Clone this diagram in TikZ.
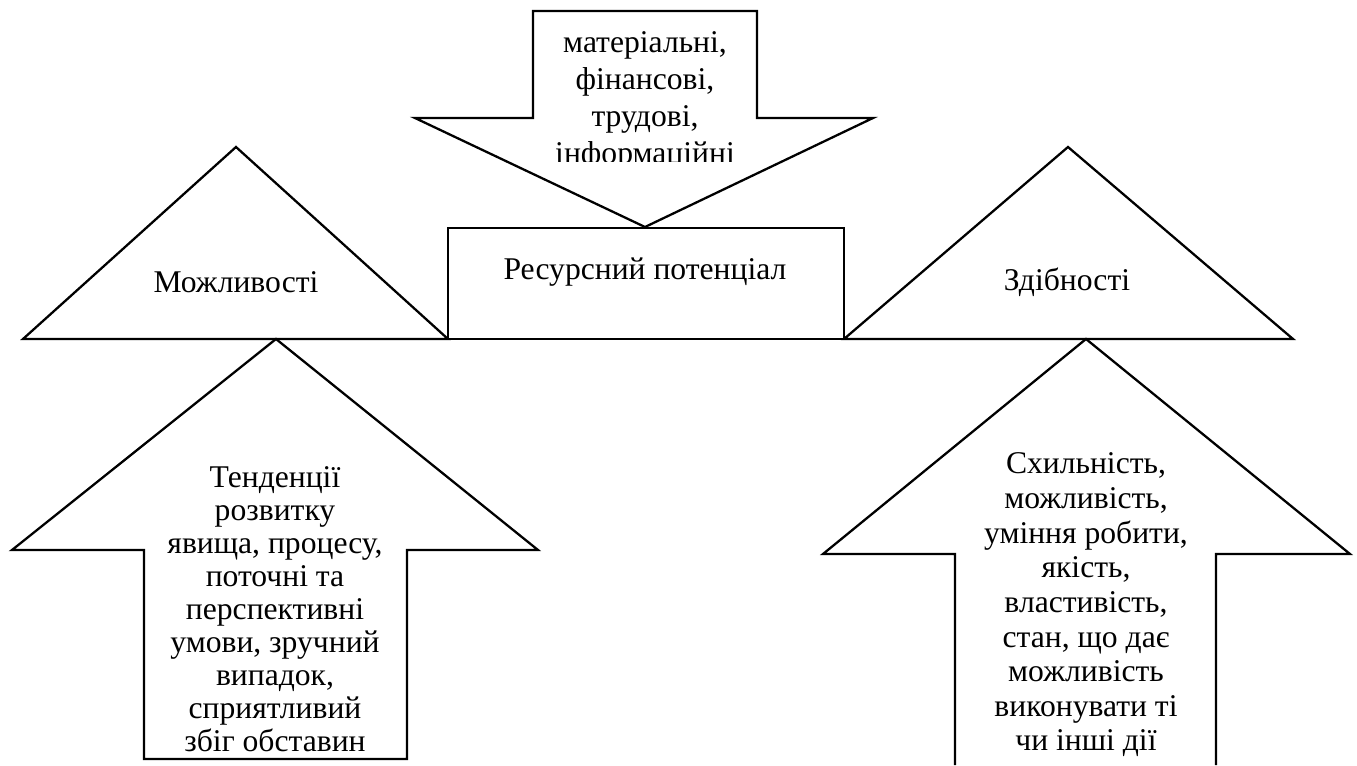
\documentclass[tikz,border=0pt]{standalone}
\usepackage{fontspec}
\setmainfont{Liberation Serif}

\begin{document}
\begin{tikzpicture}[x=0.02cm, y=-0.02cm]
	\tikzstyle{outline} = [draw, line width=1.3pt, line join=miter]
	\tikzstyle{txt} = [align=center, inner sep=0pt, font=\fontsize{18}{19.5}\selectfont]

	\useasboundingbox (0,0) rectangle (1357,765);

	% arrow from above
	\draw[outline] (533,11) -- (757,11) -- (757,118) -- (873,118) -- (645,227)
		-- (415,118) -- (533,118) -- cycle;
	\begin{scope}
	\clip (415,0) rectangle (873,161);
	\node[txt, font=\fontsize{18}{21}\selectfont] (inp) at (645,101) {матеріальні,\\фінансові,\\трудові,\\інформаційні};
	\end{scope}

	% middle row
	\draw[outline] (448,228) rectangle (844,339);
	\draw[outline] (23,339) -- (236,147) -- (448,339) -- cycle;
	\draw[outline] (844,339) -- (1068,147) -- (1293,339) -- cycle;

	\path
	node[txt] (pot) at (645,272) {Ресурсний потенціал}
	node[txt] (mozh) at (236,282) {Можливості}
	node[txt] (zdib) at (1067,282) {Здібності};

	% arrows from below
	\draw[outline] (276,339) -- (538,550) -- (407,550) -- (407,759) -- (144,759)
		-- (144,550) -- (12,550) -- cycle;
	\draw[outline] (955,765) -- (955,554) -- (823,554) -- (1086,339) -- (1350,554)
		-- (1216,554) -- (1216,765);

	\node[txt, font=\fontsize{18}{18.8}\selectfont] (tend) at (275,609) {Тенденції\\розвитку\\явища, процесу,\\поточні та\\перспективні\\умови, зручний\\випадок,\\сприятливий\\збіг обставин};
	\node[txt, font=\fontsize{18}{19.7}\selectfont] (skhyl) at (1086,605) {Схильність,\\можливість,\\уміння робити,\\якість,\\властивість,\\стан, що дає\\можливість\\виконувати ті\\чи інші дії};
\end{tikzpicture}
\end{document}
